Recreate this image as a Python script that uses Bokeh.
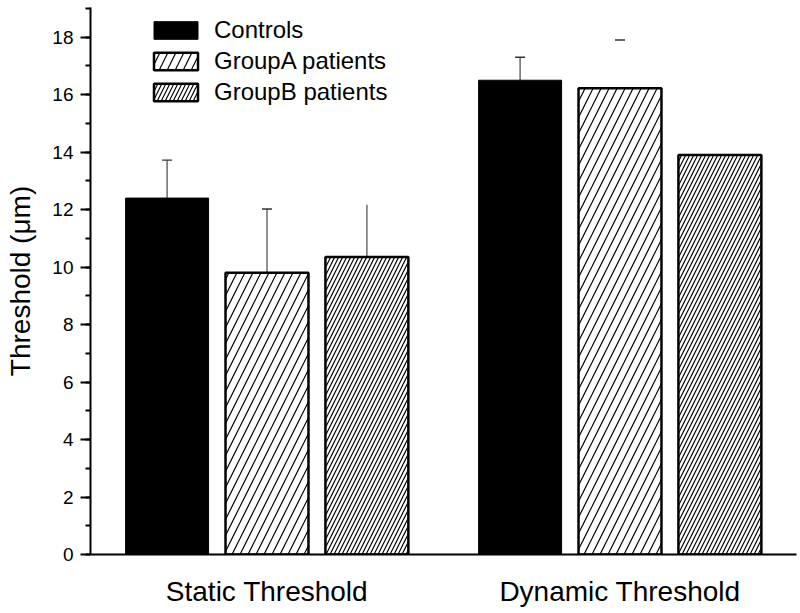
from bokeh.plotting import figure
from bokeh.models import (Range1d, FixedTicker, SingleIntervalTicker, Legend,
                          LegendItem, ColumnDataSource)
from bokeh.embed import file_html
from bokeh.resources import INLINE

# ---------------- data ----------------
groups = ["Static Threshold", "Dynamic Threshold"]
series = ["Controls", "GroupA patients", "GroupB patients"]
controls = [12.40, 16.50]
group_a = [9.80, 16.22]
group_b = [10.35, 13.90]
controls_err_top = [13.72, 17.30]
group_a_err_top = [12.02, 17.90]
group_b_err_top = [12.17, None]
y_max = 19.03

# ---------------- layout / style ----------------
group_pos = [0.5, 1.5]
offsets = [-0.283, 0.0, 0.283]
bar_width = 0.235
stem_shown = [[True, True], [True, False], [True, False]]
cap_shown = [[True, True], [True, True], [False, False]]
FONT = "Liberation Sans"

p = figure(width=800, height=613, output_backend="svg", toolbar_location=None,
           x_range=Range1d(0, 2), y_range=Range1d(0, y_max),
           min_border_left=90, min_border_right=4, min_border_top=7,
           min_border_bottom=59)
p.outline_line_color = None
p.xgrid.visible = False
p.ygrid.visible = False
p.background_fill_color = "white"
p.border_fill_color = "white"

values = [controls, group_a, group_b]
err_tops = [controls_err_top, group_a_err_top, group_b_err_top]
renderers = []
for i, name in enumerate(series):
    xs = [g + offsets[i] for g in group_pos]
    src = ColumnDataSource(dict(x=xs, top=values[i]))
    sx, sy0, sy1, cx, cy = [], [], [], [], []
    for j in range(len(groups)):
        e = err_tops[i][j]
        if e is None:
            continue
        if stem_shown[i][j]:
            sx.append(xs[j]); sy0.append(values[i][j]); sy1.append(e)
        if cap_shown[i][j]:
            cx.append(xs[j]); cy.append(e)
    if sx:
        p.segment(x0=sx, y0=sy0, x1=sx, y1=sy1, line_color="#555555", line_width=1.3)
    if cx:
        p.scatter(x=cx, y=cy, marker="dash", size=10, line_color="#333333",
                  line_width=1.3)
    if i == 0:
        r = p.vbar(x="x", top="top", width=bar_width, source=src, fill_color="black",
                   line_color="black", line_width=1)
    else:
        r = p.vbar(x="x", top="top", width=bar_width, source=src, fill_color="white",
                   line_color="black", line_width=2.5,
                   hatch_pattern="right_diagonal_line", hatch_color="black",
                   hatch_weight=1.2, hatch_scale=16 if i == 1 else 8)
    renderers.append(r)

legend = Legend(items=[LegendItem(label=series[i], renderers=[renderers[i]])
                       for i in range(3)],
                location=(58, 448), glyph_width=55, glyph_height=22,
                label_standoff=11, padding=0, margin=0, spacing=3,
                border_line_color=None, background_fill_alpha=0,
                label_text_font=FONT, label_text_font_size="24px",
                label_text_color="black")
p.add_layout(legend)

# y axis
ya = p.yaxis[0]
ya.ticker = SingleIntervalTicker(interval=2, num_minor_ticks=2)
ya.axis_line_width = 2
ya.major_tick_line_width = 2
ya.minor_tick_line_width = 2
ya.major_tick_out = 10
ya.major_tick_in = 0
ya.minor_tick_out = 5
ya.minor_tick_in = 0
ya.major_label_standoff = 7
ya.major_label_text_font = FONT
ya.major_label_text_font_size = "19px"
ya.major_label_text_color = "black"
ya.axis_label = "Threshold (\u03bcm)"
ya.axis_label_text_font = FONT
ya.axis_label_text_font_size = "28px"
ya.axis_label_text_font_style = "normal"
ya.axis_label_text_color = "black"
ya.axis_label_standoff = 13

# x axis
xa = p.xaxis[0]
xa.ticker = FixedTicker(ticks=group_pos)
xa.major_label_overrides = {group_pos[k]: groups[k] for k in range(len(groups))}
xa.axis_line_width = 2
xa.major_tick_line_color = None
xa.minor_tick_line_color = None
xa.major_tick_out = 0
xa.major_tick_in = 0
xa.minor_tick_out = 0
xa.minor_tick_in = 0
xa.axis_label = None
xa.major_label_standoff = 21
xa.major_label_text_font = FONT
xa.major_label_text_font_size = "28px"
xa.major_label_text_color = "black"

open("out.html", "w").write(file_html(p, INLINE))
